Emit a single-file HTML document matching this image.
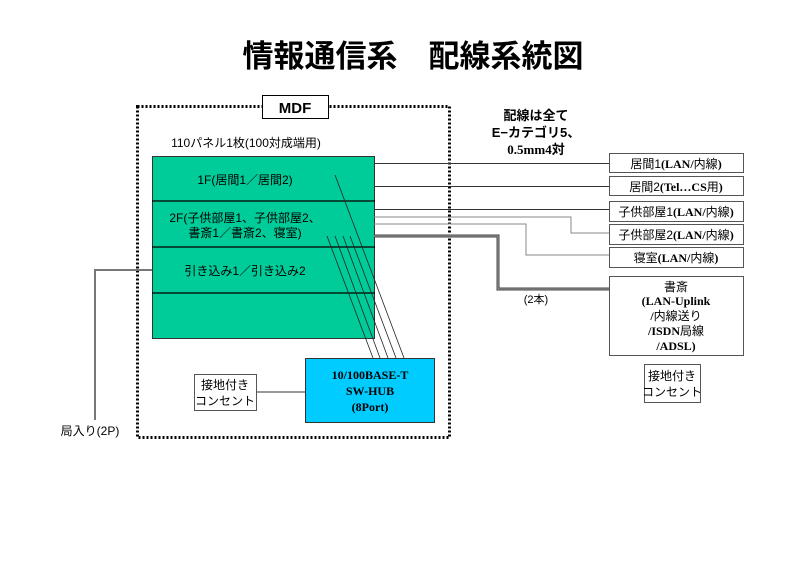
<!DOCTYPE html>
<html><head><meta charset="utf-8"><style>
body{margin:0;background:#fff}
svg text{font-family:"Liberation Sans","Noto Sans CJK JP",sans-serif;fill:#000}
.s{font-family:"Liberation Serif","Noto Sans CJK JP",serif !important;font-weight:bold}
</style></head><body>
<svg width="800" height="566" viewBox="0 0 800 566" xmlns="http://www.w3.org/2000/svg">
<text x="413" y="67" font-size="31" font-weight="bold" text-anchor="middle">情報通信系　配線系統図</text>
<rect x="137.5" y="106.5" width="312" height="331" fill="none" stroke="#000" stroke-width="3" stroke-dasharray="2,2"/>
<rect x="262.5" y="95.5" width="66" height="23" fill="#fff" stroke="#000"/>
<text x="295" y="113" font-size="15" font-weight="bold" text-anchor="middle">MDF</text>
<text x="246" y="147" font-size="12" text-anchor="middle">110パネル1枚(100対成端用)</text>
<rect x="152.5" y="156.5" width="222" height="182" fill="#00cc99" stroke="#333"/>
<g stroke="#000" stroke-width="1.2"><line x1="152" y1="201" x2="375" y2="201"/><line x1="152" y1="247" x2="375" y2="247"/><line x1="152" y1="293" x2="375" y2="293"/></g>
<text x="245" y="184" font-size="12" text-anchor="middle">1F(居間1／居間2)</text>
<text x="245" y="222" font-size="12" text-anchor="middle">2F(子供部屋1、子供部屋2、</text>
<text x="245" y="237" font-size="12" text-anchor="middle">書斎1／書斎2、寝室)</text>
<text x="245" y="275" font-size="12" text-anchor="middle">引き込み1／引き込み2</text>
<g stroke="#222" stroke-width="0.8">
<line x1="335" y1="175" x2="404" y2="358"/>
<line x1="327" y1="236" x2="373" y2="358"/>
<line x1="335" y1="236" x2="380" y2="358"/>
<line x1="343" y1="236" x2="388" y2="358"/>
<line x1="350" y1="236" x2="396" y2="358"/>
</g>
<rect x="305.5" y="358.5" width="129" height="64" fill="#00ccff" stroke="#333"/>
<text class="s" x="370" y="379" font-size="12" text-anchor="middle">10/100BASE-T</text>
<text class="s" x="370" y="395" font-size="12" text-anchor="middle">SW-HUB</text>
<text class="s" x="370" y="411" font-size="12" text-anchor="middle">(8Port)</text>
<line x1="256" y1="392" x2="305" y2="392" stroke="#333"/>
<rect x="194.5" y="374.5" width="62" height="36" fill="#fff" stroke="#555"/>
<text x="225" y="389" font-size="12" text-anchor="middle">接地付き</text>
<text x="225" y="405" font-size="12" text-anchor="middle">コンセント</text>
<polyline points="152,270 95,270 95,420" fill="none" stroke="#777" stroke-width="2"/>
<text x="90" y="435" font-size="12" text-anchor="middle">局入り(2P)</text>
<text x="536" y="120" font-size="13" font-weight="bold" text-anchor="middle">配線は全て</text>
<text x="536" y="137" font-size="13" font-weight="bold" text-anchor="middle">E−カテゴリ5、</text>
<text class="s" x="536" y="154" font-size="13" text-anchor="middle">0.5mm4対</text>
<g fill="none" stroke="#333" stroke-width="1">
<line x1="374" y1="163.5" x2="609" y2="163.5"/>
<line x1="374" y1="186.5" x2="609" y2="186.5"/>
<line x1="374" y1="209.5" x2="609" y2="209.5"/>
<polyline points="374,217 571,217 571,233 609,233" stroke="#888"/>
<polyline points="374,224 526,224 526,255 609,255" stroke="#888"/>
</g>
<polyline points="374,236 498,236 498,289 609,289" fill="none" stroke="#444" stroke-width="3"/>
<polyline points="374,236 498,236 498,289 609,289" fill="none" stroke="#bbb" stroke-width="0.8"/>
<text x="536" y="303" font-size="11" text-anchor="middle">(2本)</text>
<g fill="#fff" stroke="#555">
<rect x="609.5" y="153.5" width="134" height="19"/>
<rect x="609.5" y="176.5" width="134" height="19"/>
<rect x="609.5" y="201.5" width="134" height="20"/>
<rect x="609.5" y="224.5" width="134" height="20"/>
<rect x="609.5" y="247.5" width="134" height="20"/>
<rect x="609.5" y="276.5" width="134" height="79"/>
<rect x="644.5" y="364.5" width="56" height="38"/>
</g>
<g font-size="12" text-anchor="middle">
<text x="676" y="168">居間1<tspan class="s">(LAN/</tspan>内線<tspan class="s">)</tspan></text>
<text x="676" y="191">居間2<tspan class="s">(Tel…CS</tspan>用<tspan class="s">)</tspan></text>
<text x="676" y="216">子供部屋1<tspan class="s">(LAN/</tspan>内線<tspan class="s">)</tspan></text>
<text x="676" y="239">子供部屋2<tspan class="s">(LAN/</tspan>内線<tspan class="s">)</tspan></text>
<text x="676" y="262">寝室<tspan class="s">(LAN/</tspan>内線<tspan class="s">)</tspan></text>
<text x="676" y="291">書斎</text>
<text class="s" x="676" y="305">(LAN-Uplink</text>
<text x="676" y="320"><tspan class="s">/</tspan>内線送り</text>
<text x="676" y="335"><tspan class="s">/ISDN</tspan>局線</text>
<text class="s" x="676" y="350">/ADSL)</text>
<text x="672" y="380">接地付き</text>
<text x="672" y="396">コンセント</text>
</g>
</svg>
</body></html>
